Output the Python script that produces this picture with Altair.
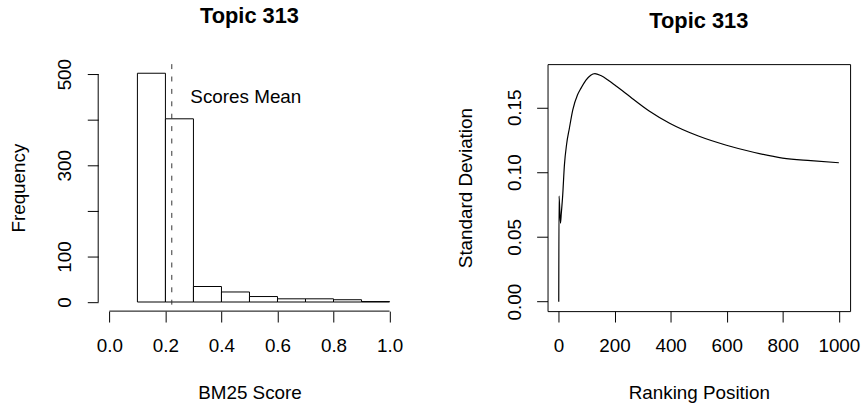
import altair as alt
import pandas as pd

# ---- data ----
bin_starts = [0.1, 0.2, 0.3, 0.4, 0.5, 0.6, 0.7, 0.8, 0.9]
bin_ends = [0.2, 0.3, 0.4, 0.5, 0.6, 0.7, 0.8, 0.9, 1.0]
counts = [502, 402, 34, 22, 12, 7, 7, 5, 1]
mean_score = 0.2227
mean_label = "Scores Mean"

ranks = [1, 2, 7, 10, 15, 21, 29, 39, 51, 68, 80, 98, 115, 130, 151, 180, 202, 228,
         263, 322, 398, 499, 599, 699, 799, 900, 1000]
sds = [0.0, 0.0816, 0.0605, 0.068, 0.082, 0.105, 0.1215, 0.134, 0.148, 0.1596,
       0.1646, 0.171, 0.1748, 0.176, 0.1745, 0.1705, 0.1670, 0.1628,
       0.1568, 0.1473, 0.1375, 0.1278, 0.1207, 0.1151, 0.1108, 0.1088, 0.1072]

title_text = "Topic 313"
FONT = "Liberation Sans"
FS = 19

hist_df = pd.DataFrame({"start": bin_starts, "end": bin_ends, "count": counts})
sd_df = pd.DataFrame({"rank": ranks, "sd": sds})
one_df = pd.DataFrame({"mean": [mean_score], "label": [mean_label]})

LW, LH = 305, 249
RW, RH = 305, 249


def mk_title():
    return alt.TitleParams(title_text, fontSize=22, fontWeight="bold", font=FONT,
                           frame="group", anchor="middle", baseline="alphabetic",
                           offset=14, color="black")


xl_scale = alt.Scale(domain=[-0.04, 1.04], nice=False, zero=False)
yl_scale = alt.Scale(domain=[-20, 522], nice=False, zero=False)

x_axis_l = alt.Axis(values=[0, 0.2, 0.4, 0.6, 0.8, 1.0], format=".1f", domain=False,
                    grid=False, tickSize=11, tickColor="black", labelFontSize=FS,
                    labelFont=FONT, labelColor="black", labelBaseline="alphabetic",
                    labelPadding=30, title="BM25 Score", titleFontSize=FS,
                    titleFont=FONT, titleFontWeight="normal", titleColor="black",
                    titleBaseline="alphabetic", titleY=88, labelFlush=False)
y_axis_l = alt.Axis(values=[0, 100, 200, 300, 400, 500], domain=False, grid=False,
                    tickSize=11, tickColor="black", labelFontSize=FS, labelFont=FONT,
                    labelColor="black", labelAngle=-90, labelAlign="center",
                    labelBaseline="alphabetic", labelPadding=17,
                    labelExpr="(datum.value == 200 || datum.value == 400) ? '' : datum.label",
                    title="Frequency", titleFontSize=FS, titleFont=FONT,
                    titleFontWeight="normal", titleColor="black", titleAngle=-90,
                    titleAlign="center", titleBaseline="alphabetic", titleX=-74,
                    titleY=LH / 2, labelFlush=False)

bars = alt.Chart(hist_df).mark_rect(fill="white", stroke="black", strokeWidth=1).encode(
    x=alt.X("start:Q", scale=xl_scale, axis=x_axis_l),
    x2="end:Q",
    y=alt.Y("count:Q", scale=yl_scale, axis=y_axis_l),
    y2=alt.datum(0),
)

x_line = alt.Chart(one_df).mark_rule(color="black", strokeWidth=1).encode(
    x=alt.datum(0), x2=alt.datum(1), y=alt.value(LH))
y_line = alt.Chart(one_df).mark_rule(color="black", strokeWidth=1).encode(
    x=alt.value(0), y=alt.datum(0), y2=alt.datum(500))
mean_rule = alt.Chart(one_df).mark_rule(color="#333333", strokeWidth=1,
                                        strokeDash=[5, 7.5]).encode(
    x=alt.X("mean:Q"), y=alt.value(0), y2=alt.value(LH))
mean_text = alt.Chart(one_df).mark_text(align="left", baseline="alphabetic",
                                        fontSize=FS, font=FONT, color="black").encode(
    x=alt.datum(0.289), y=alt.datum(437), text="label:N")

left = alt.layer(bars, x_line, y_line, mean_rule, mean_text).properties(
    width=LW, height=LH, title=mk_title(),
    view=alt.ViewBackground(strokeOpacity=0))

xr_scale = alt.Scale(domain=[-39, 1040], nice=False, zero=False)
yr_scale = alt.Scale(domain=[-0.0073, 0.1833], nice=False, zero=False)

x_axis_r = alt.Axis(values=[0, 200, 400, 600, 800, 1000], format="d", domain=False,
                    grid=False, tickSize=11, tickColor="black", labelFontSize=FS,
                    labelFont=FONT, labelColor="black", labelBaseline="alphabetic",
                    labelPadding=30, title="Ranking Position", titleFontSize=FS,
                    titleFont=FONT, titleFontWeight="normal", titleColor="black",
                    titleBaseline="alphabetic", titleY=88, labelFlush=False)
y_axis_r = alt.Axis(values=[0, 0.05, 0.10, 0.15], format=".2f", domain=False, grid=False,
                    tickSize=11, tickColor="black", labelFontSize=FS, labelFont=FONT,
                    labelColor="black", labelAngle=-90, labelAlign="center",
                    labelBaseline="alphabetic", labelPadding=16,
                    title="Standard Deviation", titleFontSize=FS, titleFont=FONT,
                    titleFontWeight="normal", titleColor="black", titleAngle=-90,
                    titleAlign="center", titleBaseline="alphabetic", titleX=-77,
                    titleY=RH / 2, labelFlush=False)

right = alt.Chart(sd_df).mark_line(color="black", strokeWidth=1.2,
                                   interpolate="monotone").encode(
    x=alt.X("rank:Q", scale=xr_scale, axis=x_axis_r),
    y=alt.Y("sd:Q", scale=yr_scale, axis=y_axis_r),
).properties(width=RW, height=RH, title=mk_title(),
             view=alt.ViewBackground(stroke="black", strokeWidth=1))

chart = alt.hconcat(left, right, spacing=53).properties(
    padding={"left": 9, "top": 3, "right": 0, "bottom": 0},
    background="white",
)

chart.save("out.html", embed_options={"renderer": "svg", "actions": False})
